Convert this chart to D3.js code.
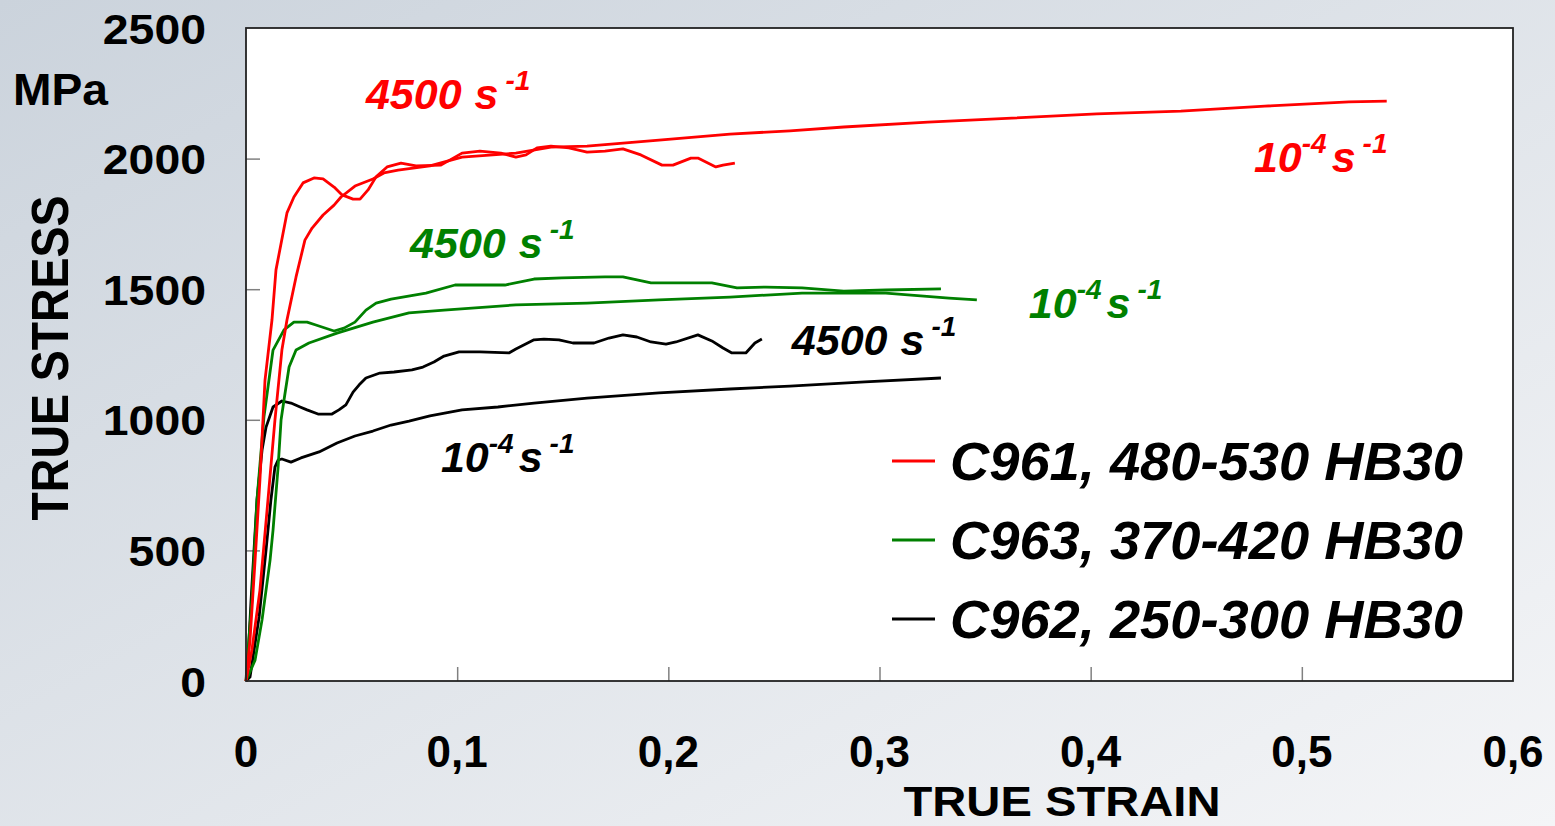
<!DOCTYPE html>
<html>
<head>
<meta charset="utf-8">
<script src="https://cdn.jsdelivr.net/npm/d3@7"></script>
<style>
    body { margin: 0; overflow: hidden; }
    text { font-family: "Liberation Sans", Arial, sans-serif; font-weight: bold; }
</style>
</head>
<body>
<div id="chart"></div>
<script>
// True stress-strain curves, C96x steels
// each point is [true strain, true stress MPa]

const c961Fast = [[0,0],[0.0019,157],[0.0043,463],[0.0066,770],[0.009,1152],[0.0123,1382],[0.0142,1574],
    [0.0194,1792],[0.0227,1853],[0.027,1907],[0.0322,1926],[0.0365,1922],[0.0417,1891],[0.0455,1861],
    [0.0507,1845],[0.054,1845],[0.0578,1880],[0.0616,1930],[0.0668,1968],[0.0734,1983],[0.0805,1972],
    [0.0923,1975],[0.1023,2021],[0.1108,2029],[0.1207,2021],[0.1278,2006],[0.1326,2014],[0.1378,2041],
    [0.1444,2048],[0.1529,2041],[0.1615,2025],[0.17,2029],[0.1785,2037],[0.187,2014],[0.197,1975],
    [0.2022,1975],[0.2107,2002],[0.214,2002],[0.2225,1968],[0.2259,1975],[0.2315,1983]];

const c961Slow = [[0,0],[0.0028,119],[0.0066,348],[0.0104,693],[0.0137,999],[0.017,1267],[0.0194,1382],
    [0.0237,1547],[0.0279,1688],[0.0313,1734],[0.0365,1784],[0.0417,1822],[0.045,1853],[0.0516,1895],
    [0.0601,1922],[0.0653,1945],[0.072,1956],[0.0871,1972],[0.1023,2006],[0.1278,2021],[0.1444,2044],
    [0.1615,2048],[0.1956,2071],[0.2292,2094],[0.2576,2106],[0.2831,2121],[0.3229,2140],[0.3627,2155],
    [0.4029,2171],[0.4427,2182],[0.4825,2201],[0.5223,2217],[0.5402,2220]];

const c963Fast = [[0,0],[0.0005,69],[0.0028,310],[0.0052,693],[0.0085,1011],[0.0128,1267],[0.018,1344],
    [0.0227,1374],[0.0289,1374],[0.0331,1363],[0.0417,1340],[0.0464,1351],[0.0516,1374],[0.0568,1420],
    [0.0616,1447],[0.0687,1462],[0.0852,1485],[0.099,1516],[0.1075,1516],[0.1226,1516],[0.1364,1539],
    [0.1496,1543],[0.17,1547],[0.1785,1547],[0.1918,1524],[0.2206,1524],[0.2325,1505],[0.2462,1508],
    [0.2633,1505],[0.2831,1493],[0.303,1497],[0.3291,1501]];

const c963Slow = [[0,0],[0.0043,80],[0.0076,234],[0.0114,463],[0.0128,578],[0.0152,819],[0.0166,999],
    [0.018,1076],[0.0204,1202],[0.0237,1267],[0.0298,1294],[0.0431,1332],[0.0601,1374],[0.0772,1409],
    [0.0938,1420],[0.1278,1440],[0.1615,1447],[0.1956,1459],[0.2292,1470],[0.2633,1485],[0.303,1485],
    [0.3329,1466],[0.3461,1459]];

const c962Fast = [[0,0],[0.0005,15],[0.0024,310],[0.0052,693],[0.0076,884],[0.0095,972],[0.0128,1049],
    [0.017,1072],[0.0213,1064],[0.0256,1049],[0.0289,1038],[0.0341,1022],[0.0407,1022],[0.044,1038],
    [0.0473,1057],[0.0507,1106],[0.0535,1133],[0.0568,1160],[0.0634,1179],[0.0701,1183],[0.0786,1191],
    [0.0838,1202],[0.089,1221],[0.0938,1244],[0.1009,1260],[0.1108,1260],[0.1245,1256],[0.1278,1271],
    [0.1364,1306],[0.1411,1309],[0.1482,1306],[0.1548,1294],[0.1648,1294],[0.1719,1313],[0.1785,1325],
    [0.1851,1317],[0.1918,1298],[0.1989,1290],[0.2036,1298],[0.214,1325],[0.2206,1302],[0.2259,1275],
    [0.2301,1256],[0.2367,1256],[0.241,1294],[0.2443,1309]];

const c962Slow = [[0,0],[0.0019,15],[0.0062,245],[0.0095,502],[0.0118,693],[0.0137,819],[0.0152,846],
    [0.017,850],[0.0213,838],[0.026,854],[0.0346,877],[0.0431,911],[0.0516,938],[0.0601,957],
    [0.0687,980],[0.0772,995],[0.0871,1015],[0.1023,1038],[0.1193,1049],[0.1364,1064],[0.1615,1083],
    [0.1956,1103],[0.2292,1118],[0.2576,1129],[0.2931,1145],[0.3291,1160]];

// legend
const grades = ["C961, 480-530 HB30", "C963, 370-420 HB30", "C962, 250-300 HB30"];
const gradeColors = ["#ff0000", "#008000", "#000000"];

// tick labels
const xTicks = [0, 0.1, 0.2, 0.3, 0.4, 0.5, 0.6];
const yTicks = [0, 500, 1000, 1500, 2000, 2500];

// rate labels: [text, exponent, colour index, strain, stress]
const rateLabels = [
    ["4500", null, 0, 0.0568, 2190],
    ["4500", null, 1, 0.0777, 1619],
    ["4500", null, 2, 0.2585, 1248],
    ["10", "-4", 0, 0.4773, 1949],
    ["10", "-4", 1, 0.3707, 1390],
    ["10", "-4", 2, 0.0923, 800]
];

const W = 1555, H = 826;
const plot = { left: 246, right: 1513, top: 28, bottom: 681 };

const svg = d3.select("#chart")
    .append("svg")
    .attr("width", W)
    .attr("height", H);

// Background gradient
const grad = svg.append("defs").append("linearGradient")
    .attr("id", "bg")
    .attr("x1", 0).attr("y1", 0).attr("x2", 1).attr("y2", 1);
grad.append("stop").attr("offset", "0%").attr("stop-color", "#cbd3dc");
grad.append("stop").attr("offset", "100%").attr("stop-color", "#f4f5f7");

svg.append("rect").attr("width", W).attr("height", H).attr("fill", "url(#bg)");

// Scales
const xScale = d3.scaleLinear().domain([0, 0.6]).range([plot.left, plot.right]);
const yScale = d3.scaleLinear().domain([0, 2500]).range([plot.bottom, plot.top]);

// Plot area
svg.append("rect")
    .attr("x", plot.left)
    .attr("y", plot.top)
    .attr("width", plot.right - plot.left)
    .attr("height", plot.bottom - plot.top)
    .attr("fill", "white");

// Inner ticks (gray)
svg.append("g")
    .attr("transform", `translate(0, ${plot.bottom})`)
    .call(d3.axisTop(xScale).tickValues(xTicks.slice(1, -1)).tickSize(14).tickFormat(""))
    .call(g => g.select(".domain").remove())
    .selectAll("line").attr("stroke", "#808080").attr("stroke-width", 1.5);

svg.append("g")
    .attr("transform", `translate(${plot.left}, 0)`)
    .call(d3.axisRight(yScale).tickValues(yTicks.slice(1, -1)).tickSize(14).tickFormat(""))
    .call(g => g.select(".domain").remove())
    .selectAll("line").attr("stroke", "#808080").attr("stroke-width", 1.5);

// Tick labels
svg.append("g").selectAll("text")
    .data(xTicks)
    .enter()
    .append("text")
    .attr("x", d => xScale(d))
    .attr("y", 767)
    .attr("text-anchor", "middle")
    .attr("font-size", 44)
    .text(d => d === 0 ? "0" : d3.format(".1f")(d).replace(".", ","));

svg.append("g").selectAll("text")
    .data(yTicks)
    .enter()
    .append("text")
    .attr("x", 206)
    .attr("y", d => yScale(d) + 15.5)
    .attr("text-anchor", "end")
    .attr("font-size", 43)
    .attr("textLength", d => String(d).length * 25.8)
    .attr("lengthAdjust", "spacingAndGlyphs")
    .text(d => d);

// Axis titles
svg.append("text")
    .attr("x", 13)
    .attr("y", 105)
    .attr("font-size", 45)
    .attr("textLength", 95)
    .attr("lengthAdjust", "spacingAndGlyphs")
    .text("MPa");

svg.append("text")
    .attr("transform", "translate(68, 358) rotate(-90)")
    .attr("text-anchor", "middle")
    .attr("font-size", 51)
    .attr("textLength", 325)
    .attr("lengthAdjust", "spacingAndGlyphs")
    .text("TRUE STRESS");

svg.append("text")
    .attr("x", 1062)
    .attr("y", 816)
    .attr("text-anchor", "middle")
    .attr("font-size", 42)
    .attr("textLength", 317)
    .attr("lengthAdjust", "spacingAndGlyphs")
    .text("TRUE STRAIN");

// Curves
const lineGenerator = d3.line()
    .x(d => xScale(d[0]))
    .y(d => yScale(d[1]));

const curves = [
    [c962Slow, 2], [c962Fast, 2],
    [c963Slow, 1], [c963Fast, 1],
    [c961Slow, 0], [c961Fast, 0]
];

curves.forEach(([data, c]) => {
    svg.append("path")
        .datum(data)
        .attr("fill", "none")
        .attr("stroke", gradeColors[c])
        .attr("stroke-width", 2.8)
        .attr("stroke-linejoin", "round")
        .attr("d", lineGenerator);
});

// Frame
svg.append("rect")
    .attr("x", plot.left)
    .attr("y", plot.top)
    .attr("width", plot.right - plot.left)
    .attr("height", plot.bottom - plot.top)
    .attr("fill", "none")
    .attr("stroke", "#222")
    .attr("stroke-width", 1.8);

// Rate labels
rateLabels.forEach(([base, exp, c, sx, sy]) => {
    const t = svg.append("text")
        .attr("x", xScale(sx))
        .attr("y", yScale(sy))
        .attr("font-size", 43)
        .attr("font-style", "italic")
        .attr("fill", gradeColors[c]);
    t.append("tspan").text(base);
    if (exp) {
        t.append("tspan").attr("dy", -19).attr("font-size", 28).text(exp);
        t.append("tspan").attr("dy", 19).attr("dx", 5).text("s");
    } else {
        t.append("tspan").attr("dx", 13).text("s");
    }
    t.append("tspan").attr("dy", -19).attr("dx", 7).attr("font-size", 28).text("-1");
});

// Legend
const legend = svg.append("g").selectAll("g")
    .data(grades)
    .enter()
    .append("g")
    .attr("transform", (d, i) => `translate(892, ${461 + i * 79})`);

legend.append("line")
    .attr("x1", 0).attr("x2", 43)
    .attr("stroke", (d, i) => gradeColors[i])
    .attr("stroke-width", 3);

legend.append("text")
    .attr("x", 58)
    .attr("y", 19)
    .attr("font-size", 53)
    .attr("font-style", "italic")
    .attr("textLength", 513)
    .attr("lengthAdjust", "spacingAndGlyphs")
    .text(d => d);
</script>
</body>
</html>
